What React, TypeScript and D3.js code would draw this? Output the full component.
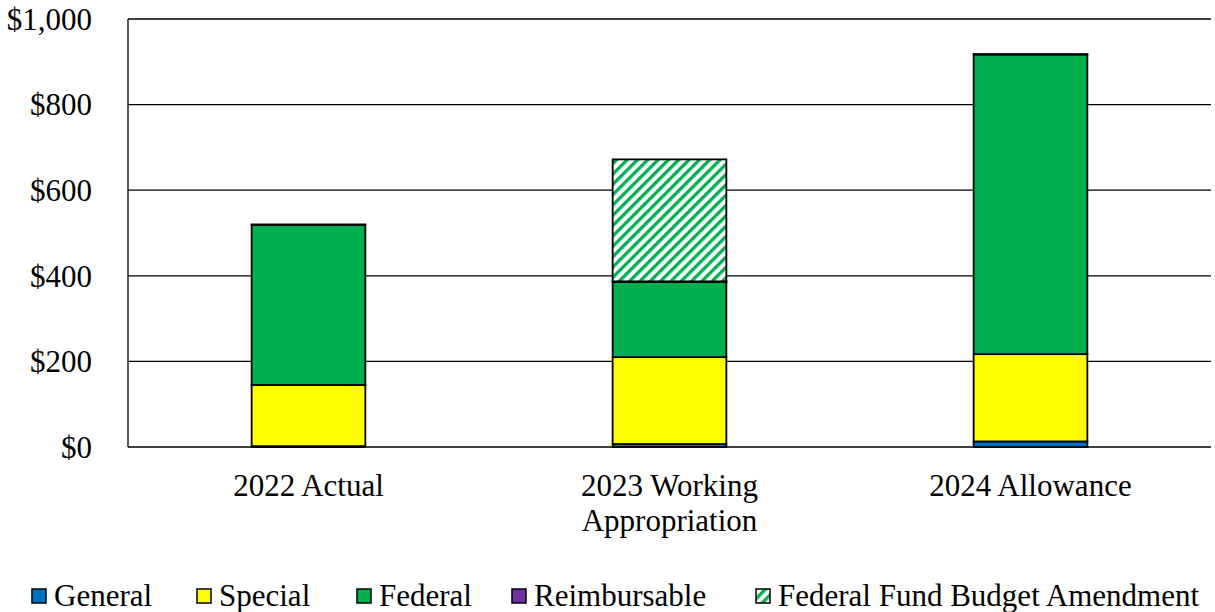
import React from "react";
import * as d3 from "d3";

const categories = ["2022 Actual", "2023 Working\nAppropriation", "2024 Allowance"];
const seriesNames = ["General", "Special", "Federal", "Reimbursable", "Federal Fund Budget Amendment"];
const general = [2, 7, 13];
const special = [143, 203, 204];
const federal = [374, 176, 700];
const reimbursable = [1, 1, 1];
const amendment = [0, 285, 0];
const yTicks = [0, 200, 400, 600, 800, 1000];

const colors = ["#0070C0", "#FFFF00", "#00B050", "#7030A0", "url(#hatch)"];

export default function App() {
  const W = 1215, H = 612;
  const left = 128, right = 1211, top = 19, bottom = 447;
  const x = d3.scaleBand<string>().domain(categories).range([left, right]).paddingInner(0.685).paddingOuter(0.3425);
  const y = d3.scaleLinear().domain([0, 1000]).range([bottom, top]);
  const table = categories.map((c, i) => ({
    cat: c,
    General: general[i],
    Special: special[i],
    Federal: federal[i],
    Reimbursable: reimbursable[i],
    "Federal Fund Budget Amendment": amendment[i],
  }));
  const stacked = d3.stack<any>().keys(seriesNames)(table);
  const font = "'Liberation Serif', 'Times New Roman', serif";
  const legendX = [32, 197, 357, 512, 756];
  const fs = 31;

  return (
    <svg width={W} height={H} style={{ position: "absolute", left: 0, top: 0 }} fontFamily={font}>
      <defs>
        <pattern id="hatch" patternUnits="userSpaceOnUse" width="7.3" height="7.3" patternTransform="rotate(45)">
          <rect width="7.3" height="7.3" fill="#fff" />
          <rect x="0" y="0" width="3.3" height="7.3" fill="#00B050" />
        </pattern>
      </defs>
      {yTicks.map((t) => (
        <g key={t}>
          <line x1={left} x2={right} y1={y(t)} y2={y(t)} stroke="#000" strokeWidth={1.3} />
          <text x={92} y={y(t)} dy="0.35em" textAnchor="end" fontSize={fs}>
            {d3.format("$,")(t)}
          </text>
        </g>
      ))}
      <line x1={left} x2={left} y1={top} y2={bottom} stroke="#000" strokeWidth={1.3} />
      {stacked.map((s, si) => (
        <g key={s.key}>
          {s.map((d, i) => {
            const h = y(d[0]) - y(d[1]);
            if (h <= 0.01) return null;
            return (
              <rect
                key={i}
                x={x(categories[i])!}
                y={y(d[1])}
                width={x.bandwidth()}
                height={h}
                fill={colors[si]}
                stroke="#000"
                strokeWidth={1.8}
              />
            );
          })}
        </g>
      ))}
      {categories.map((c) => {
        const lines = c.split("\n");
        return (
          <text key={c} x={x(c)! + x.bandwidth() / 2} y={496} textAnchor="middle" fontSize={fs}>
            {lines.map((l, li) => (
              <tspan key={li} x={x(c)! + x.bandwidth() / 2} dy={li === 0 ? 0 : 35}>
                {l}
              </tspan>
            ))}
          </text>
        );
      })}
      {seriesNames.map((n, i) => (
        <g key={n}>
          <rect x={legendX[i]} y={589} width={14} height={14} fill={colors[i]} stroke="#000" strokeWidth={1.5} />
          <text x={legendX[i] + 22} y={606} fontSize={fs}>
            {n}
          </text>
        </g>
      ))}
    </svg>
  );
}
